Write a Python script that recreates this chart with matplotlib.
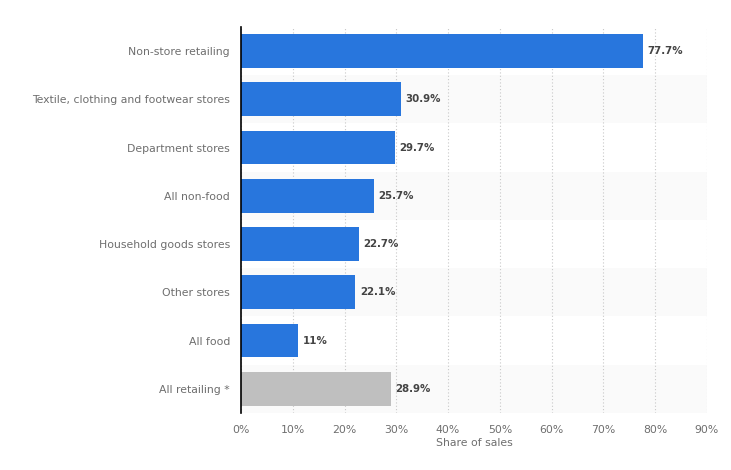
import matplotlib.pyplot as plt
from matplotlib.ticker import FuncFormatter

categories = ["Non-store retailing", "Textile, clothing and footwear stores", "Department stores",
              "All non-food", "Household goods stores", "Other stores", "All food", "All retailing *"]
values = [77.7, 30.9, 29.7, 25.7, 22.7, 22.1, 11.0, 28.9]
value_labels = ["77.7%", "30.9%", "29.7%", "25.7%", "22.7%", "22.1%", "11%", "28.9%"]

blue = "#2876dd"
grey = "#bfbfbf"
colors = [blue] * 7 + [grey]

fig = plt.figure(figsize=(7.31, 4.7), dpi=100)
ax = fig.add_axes([0.3297, 0.1213, 0.967 - 0.3297, 0.9426 - 0.1213])

n = len(categories)
pos = list(range(n))

# alternating row stripes
for i in pos:
    if i % 2 == 1:
        ax.axhspan(i - 0.5, i + 0.5, color="#fafafa", zorder=0, lw=0)

ax.barh(pos, values, height=0.7, color=colors, zorder=3)
for i, (v, lab) in enumerate(zip(values, value_labels)):
    ax.text(v + 0.9, i, lab, va="center", ha="left", fontsize=7.4,
            fontweight="bold", color="#444444", zorder=4)

ax.set_xlim(0, 90)
ax.set_ylim(n - 0.5, -0.5)
ax.set_yticks(pos)
ax.set_yticklabels(categories)
ax.set_xticks(range(0, 100, 10))
ax.xaxis.set_major_formatter(FuncFormatter(lambda x, p: f"{x:.0f}%"))

ax.grid(axis="x", linestyle=(0, (1, 2)), color="#c8c8c8", lw=0.8, zorder=1)
for s in ["top", "right", "bottom"]:
    ax.spines[s].set_visible(False)
ax.spines["left"].set_color("black")
ax.spines["left"].set_linewidth(1.2)
ax.spines["left"].set_zorder(5)

ax.tick_params(axis="both", length=0, labelsize=7.8, labelcolor="#6e6e6e")
ax.tick_params(axis="y", pad=8)
ax.tick_params(axis="x", pad=9)
ax.set_xlabel("Share of sales", fontsize=7.8, color="#6e6e6e", labelpad=2)

fig.savefig("out.png", dpi=100)
